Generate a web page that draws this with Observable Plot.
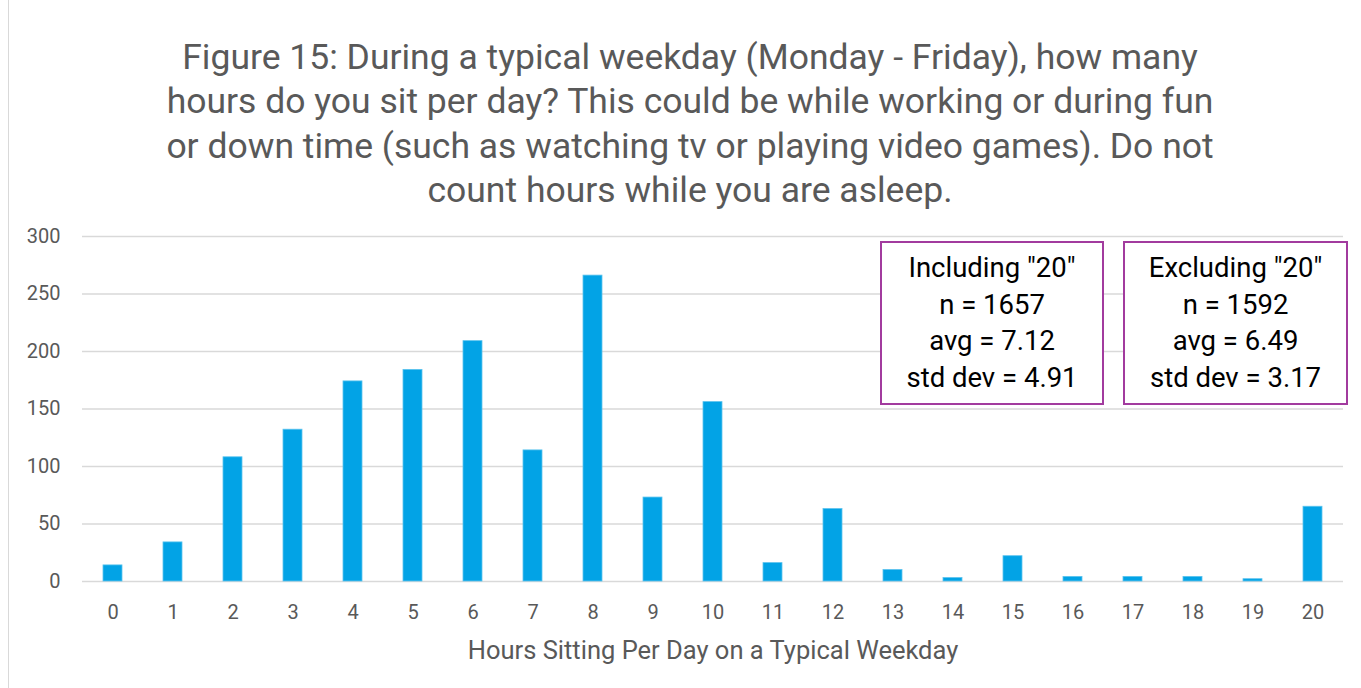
<!DOCTYPE html>
<html><head><meta charset="utf-8">
<script src="https://cdn.jsdelivr.net/npm/d3@7"></script>
<script src="https://cdn.jsdelivr.net/npm/@observablehq/plot@0.6"></script>
<style>
body{margin:0;background:#fff;}
#wrap{position:relative;width:1361px;height:688px;overflow:hidden;font-family:Roboto, sans-serif;background:#fff;}
#border{position:absolute;left:8px;top:0;width:1px;height:688px;background:#d9d9d9;}
#title{position:absolute;left:0;width:1380px;top:34.5px;text-align:center;font-size:35.5px;line-height:44.5px;color:#595959;white-space:nowrap;}
#chart{position:absolute;left:0;top:215px;}
.box{position:absolute;top:241px;height:164px;box-sizing:border-box;border:2px solid #A23B9E;background:#fff;
 display:flex;flex-direction:column;justify-content:center;align-items:center;font-size:27.5px;line-height:36.5px;color:#000;white-space:nowrap;}
</style></head>
<body>
<div id="wrap">
  <div id="border"></div>
  <div id="title"></div>
  <div id="chart"></div>
  <div class="box" id="box1" style="left:880px;width:224px;"></div>
  <div class="box" id="box2" style="left:1123px;width:225px;"></div>
</div>
<script>
const titleLines = [
  "Figure 15: During a typical weekday (Monday - Friday), how many",
  "hours do you sit per day? This could be while working or during fun",
  "or down time (such as watching tv or playing video games). Do not",
  "count hours while you are asleep."
];
const hours = ["0","1","2","3","4","5","6","7","8","9","10","11","12","13","14","15","16","17","18","19","20"];
const counts = [14,34,108,132,174,184,209,114,266,73,156,16,63,10,3,22,4,4,4,2,65];
const yTicks = [0,50,100,150,200,250,300];
const xLabel = "Hours Sitting Per Day on a Typical Weekday";
const box1Lines = ['Including "20"', "n = 1657", "avg = 7.12", "std dev = 4.91"];
const box2Lines = ['Excluding "20"', "n = 1592", "avg = 6.49", "std dev = 3.17"];

document.getElementById("title").innerHTML = titleLines.map(l => `<div>${l}</div>`).join("");
document.getElementById("box1").innerHTML = box1Lines.map(l => `<div>${l}</div>`).join("");
document.getElementById("box2").innerHTML = box2Lines.map(l => `<div>${l}</div>`).join("");

const data = hours.map((h, i) => ({hour: h, count: counts[i]}));

const chart = Plot.plot({
  width: 1361,
  height: 473,
  marginLeft: 82,
  marginRight: 18,
  marginTop: 21,
  marginBottom: 107,
  style: {fontFamily: "Roboto, sans-serif", fontSize: "20px", color: "#595959", background: "transparent", overflow: "visible"},
  x: {domain: hours, paddingInner: 0.68, paddingOuter: 0.34, label: null},
  y: {domain: [0, 300], label: null},
  marks: [
    Plot.gridY(yTicks, {stroke: "#d9d9d9", strokeOpacity: 1, strokeWidth: 1.5}),
    Plot.barY(data, {x: "hour", y: "count", fill: "#02A3E6", stroke: "#5cc3ee", strokeWidth: 0.8}),
    Plot.axisY(yTicks, {tickSize: 0, tickPadding: 22, fill: "#595959", fontSize: 20, label: null}),
    Plot.axisX({tickSize: 0, tickPadding: 23, fill: "#595959", fontSize: 20, label: null}),
    Plot.text([xLabel], {frameAnchor: "bottom", dy: 69, fill: "#595959", fontSize: 25.5, lineAnchor: "middle"})
  ]
});
document.getElementById("chart").appendChild(chart);
</script>
</body></html>
